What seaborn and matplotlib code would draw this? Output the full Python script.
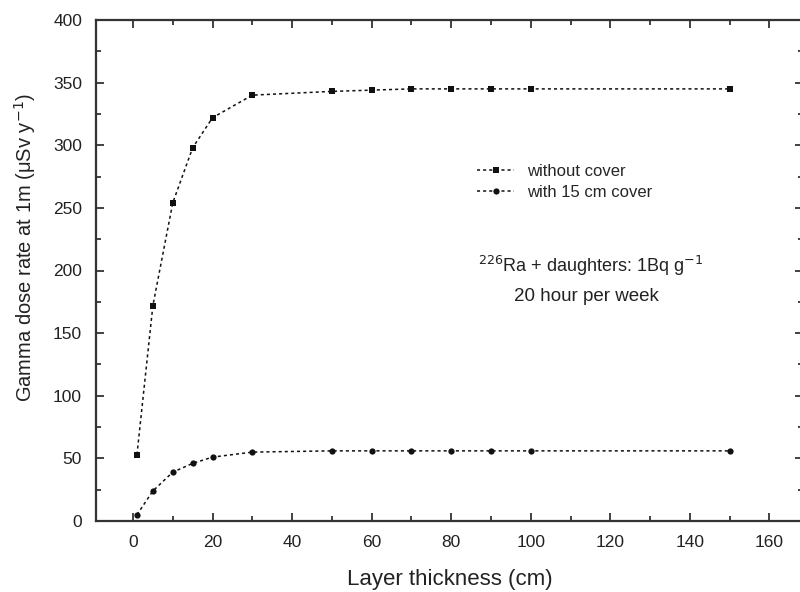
import numpy as np
import pandas as pd
import matplotlib
matplotlib.use("Agg")
import matplotlib.pyplot as plt
import seaborn as sns
from matplotlib.ticker import MultipleLocator

thickness = [1, 5, 10, 15, 20, 30, 50, 60, 70, 80, 90, 100, 150]
no_cover = [53, 172, 254, 298, 322, 340, 343, 344, 345, 345, 345, 345, 345]
with_cover = [5, 24, 39, 46, 51, 55, 56, 56, 56, 56, 56, 56, 56]

sns.set_theme(style="ticks")
plt.rcParams["font.family"] = ["Liberation Sans", "DejaVu Sans"]

df = pd.DataFrame({"x": thickness, "without cover": no_cover, "with 15 cm cover": with_cover})

fig = plt.figure(figsize=(8, 5.92), dpi=100)
ax = fig.add_axes([0.12, 71 / 592, 0.884, 501 / 592])

sns.lineplot(data=df, x="x", y="without cover", ax=ax, color="#111111", lw=1.1,
             linestyle=(0, (2, 2)), marker="s", markersize=5, markeredgewidth=0,
             label="without cover")
sns.lineplot(data=df, x="x", y="with 15 cm cover", ax=ax, color="#111111", lw=1.1,
             linestyle=(0, (2, 2)), marker="o", markersize=4.5, markeredgewidth=0,
             label="with 15 cm cover")

ax.set_xlim(-9.3, 168.5)
ax.set_ylim(0, 400)
ax.xaxis.set_major_locator(MultipleLocator(20))
ax.xaxis.set_minor_locator(MultipleLocator(10))
ax.yaxis.set_major_locator(MultipleLocator(50))
ax.yaxis.set_minor_locator(MultipleLocator(25))
ax.tick_params(which="both", direction="in", top=True, right=True, width=1.2,
               colors="#222222", labelsize=12.5, pad=10)
ax.tick_params(which="major", length=6)
ax.tick_params(which="minor", length=3.5)
for s in ax.spines.values():
    s.set_linewidth(1.6)
    s.set_color("#333333")

ax.set_xlabel("Layer thickness (cm)", fontsize=16, color="#222222", labelpad=14)
ax.set_ylabel("Gamma dose rate at 1m (\u03bcSv y$^{-1}$)", fontsize=14.5, color="#222222")
ax.yaxis.set_label_coords(-0.082, 0.545)

ax.legend(loc="center left", bbox_to_anchor=(0.518, 0.677), frameon=False, fontsize=12,
          handlelength=2.2, handletextpad=0.8, labelspacing=0.35)
ax.text(115, 204, "$^{226}$Ra + daughters: 1Bq g$^{-1}$", fontsize=13, ha="center",
        va="center", color="#222222")
ax.text(114, 179, "20 hour per week", fontsize=13.5, ha="center", va="center", color="#222222")

fig.savefig("out.png", dpi=100)
